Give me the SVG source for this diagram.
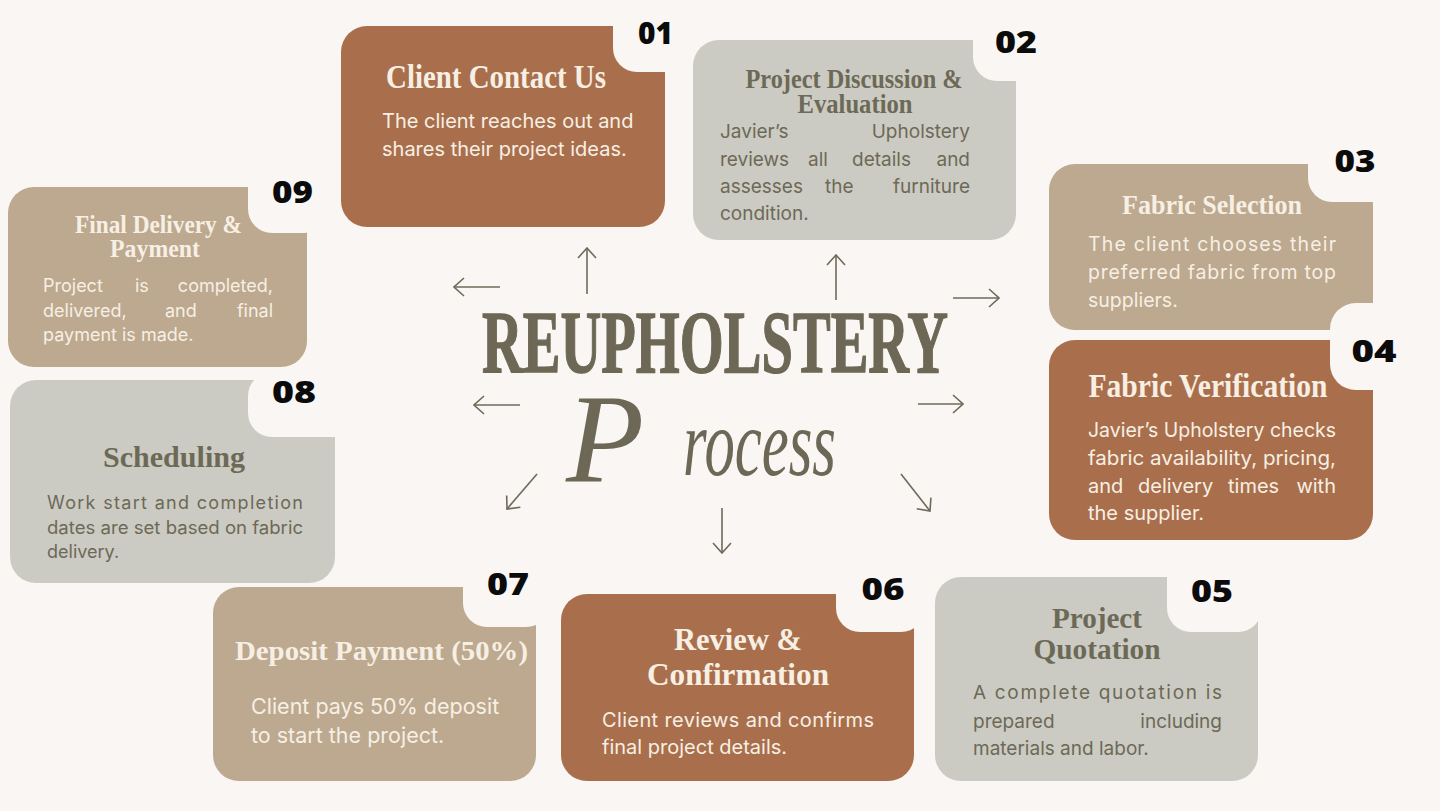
<svg xmlns="http://www.w3.org/2000/svg" width="1440" height="811" viewBox="0 0 1440 811">
<defs>
<style>
.rust{fill:#a96f4c}
.grey{fill:#cbcbc3}
.tan{fill:#bca98f}
.notch{fill:#faf6f3}
.ttl{font-family:"Liberation Serif",serif;font-weight:bold;text-anchor:middle}
.lt{fill:#f7efe4}
.dk{fill:#6d6957}
.body{font-family:Inter,"Liberation Sans",sans-serif;font-weight:400}
.end{text-anchor:end}
.num{font-family:"Open Sans","Liberation Sans",sans-serif;font-weight:800;font-size:30px;fill:#0b0b0b;text-anchor:middle}
.arr{stroke:#6e6a5a;stroke-width:1.6;fill:none;marker-end:url(#ah)}
</style>
<marker id="ah" viewBox="0 0 12 20" refX="11" refY="10" markerWidth="12" markerHeight="20" markerUnits="userSpaceOnUse" orient="auto">
<path d="M1,1 L11,10 L1,19" fill="none" stroke="#6e6a5a" stroke-width="1.6"/>
</marker>
</defs>
<rect width="1440" height="811" fill="#faf6f3"/>

<g id="title">
<text x="715" y="372" class="ttl" font-size="89" fill="#6c6855" stroke="#6c6855" stroke-width="1.4" textLength="466" lengthAdjust="spacingAndGlyphs">REUPHOLSTERY</text>
<text font-family="'Liberation Serif',serif" font-style="italic" fill="#6c6855"><tspan x="566" y="482" font-size="128">P</tspan><tspan x="683" y="475" font-size="95" textLength="153" lengthAdjust="spacingAndGlyphs">rocess</tspan></text>
</g>

<g id="node-01">
<rect x="341" y="26" width="324" height="201" rx="26" class="rust"/>
<rect x="613" y="-10" width="90" height="82" rx="24" class="notch"/>
<text x="655.5" y="44" class="num" textLength="35" lengthAdjust="spacingAndGlyphs">01</text>
<text x="496" y="88" class="ttl lt" font-size="34" textLength="220" lengthAdjust="spacingAndGlyphs">Client Contact Us</text>
<text class="body lt" font-size="20"><tspan x="382" y="128">The client reaches out and</tspan><tspan x="382" y="156">shares their project ideas.</tspan></text>
</g>

<g id="node-02">
<rect x="693" y="40" width="323" height="200" rx="26" class="grey"/>
<rect x="973" y="5" width="90" height="76" rx="24" class="notch"/>
<text x="1016" y="53" class="num" textLength="42" lengthAdjust="spacingAndGlyphs">02</text>
<text x="854" y="88" class="ttl dk" font-size="27" textLength="217" lengthAdjust="spacingAndGlyphs">Project Discussion &amp;</text>
<text x="855" y="113" class="ttl dk" font-size="27" textLength="115" lengthAdjust="spacingAndGlyphs">Evaluation</text>
<text class="body dk" font-size="19"><tspan x="720" y="138">Javier’s</tspan><tspan x="720" y="166">reviews</tspan><tspan x="808" y="166">all</tspan><tspan x="852" y="166">details</tspan><tspan x="720" y="193">assesses</tspan><tspan x="825" y="193">the</tspan><tspan x="720" y="220">condition.</tspan></text>
<text class="body dk end" font-size="19"><tspan x="970" y="138">Upholstery</tspan><tspan x="970" y="166">and</tspan><tspan x="970" y="193">furniture</tspan></text>
</g>

<g id="node-03">
<rect x="1049" y="164" width="324" height="166" rx="26" class="tan"/>
<rect x="1308" y="130" width="100" height="72" rx="24" class="notch"/>
<text x="1355" y="172" class="num" textLength="41" lengthAdjust="spacingAndGlyphs">03</text>
<text x="1212" y="214" class="ttl lt" font-size="28" textLength="180" lengthAdjust="spacingAndGlyphs">Fabric Selection</text>
<text class="body lt" font-size="19.5" x="1088" y="251" textLength="248" lengthAdjust="spacing">The client chooses their</text>
<text class="body lt" font-size="19.5" x="1088" y="279" textLength="248" lengthAdjust="spacing">preferred fabric from top</text>
<text class="body lt" font-size="19.5" x="1088" y="307">suppliers.</text>
</g>

<g id="node-04">
<rect x="1049" y="340" width="324" height="200" rx="26" class="rust"/>
<rect x="1330" y="303" width="120" height="87" rx="26" class="notch"/>
<text x="1374" y="362" class="num" textLength="45" lengthAdjust="spacingAndGlyphs">04</text>
<text x="1208" y="397" class="ttl lt" font-size="33" textLength="239" lengthAdjust="spacingAndGlyphs">Fabric Verification</text>
<text class="body lt" font-size="20" x="1088" y="437" textLength="248" lengthAdjust="spacingAndGlyphs">Javier’s Upholstery checks</text>
<text class="body lt" font-size="20" x="1088" y="465" textLength="248" lengthAdjust="spacingAndGlyphs">fabric availability, pricing,</text>
<text class="body lt" font-size="20"><tspan x="1088" y="493">and</tspan><tspan x="1138" y="493">delivery</tspan><tspan x="1228" y="493">times</tspan><tspan x="1088" y="520">the supplier.</tspan></text>
<text class="body lt end" font-size="20" x="1336" y="493">with</text>
</g>

<g id="node-05">
<rect x="935" y="577" width="323" height="204" rx="26" class="grey"/>
<rect x="1167" y="540" width="95" height="92" rx="24" class="notch"/>
<text x="1212" y="602" class="num" textLength="42" lengthAdjust="spacingAndGlyphs">05</text>
<text x="1097" y="628" class="ttl dk" font-size="30" textLength="90" lengthAdjust="spacingAndGlyphs">Project</text>
<text x="1097" y="659" class="ttl dk" font-size="30" textLength="127" lengthAdjust="spacingAndGlyphs">Quotation</text>
<text class="body dk" font-size="19" x="973" y="699" textLength="249" lengthAdjust="spacing">A complete quotation is</text>
<text class="body dk" font-size="19"><tspan x="973" y="728">prepared</tspan><tspan x="973" y="755">materials and labor.</tspan></text>
<text class="body dk end" font-size="19" x="1222" y="728">including</text>
</g>

<g id="node-06">
<rect x="561" y="594" width="353" height="187" rx="26" class="rust"/>
<rect x="836" y="560" width="89" height="72" rx="24" class="notch"/>
<text x="883" y="600" class="num" textLength="43" lengthAdjust="spacingAndGlyphs">06</text>
<text x="738" y="650" class="ttl lt" font-size="31" textLength="128" lengthAdjust="spacingAndGlyphs">Review &amp;</text>
<text x="738" y="685" class="ttl lt" font-size="31" textLength="182" lengthAdjust="spacingAndGlyphs">Confirmation</text>
<text class="body lt" font-size="20" x="602" y="727" textLength="272" lengthAdjust="spacing">Client reviews and confirms</text>
<text class="body lt" font-size="20" x="602" y="754">final project details.</text>
</g>

<g id="node-07">
<rect x="213" y="587" width="323" height="194" rx="26" class="tan"/>
<rect x="463" y="555" width="87" height="72" rx="24" class="notch"/>
<text x="508" y="595" class="num" textLength="42" lengthAdjust="spacingAndGlyphs">07</text>
<text x="381.5" y="660" class="ttl lt" font-size="28" textLength="293" lengthAdjust="spacingAndGlyphs">Deposit Payment (50%)</text>
<text class="body lt" font-size="21.5"><tspan x="251" y="714">Client pays 50% deposit</tspan><tspan x="251" y="743">to start the project.</tspan></text>
</g>

<g id="node-08">
<rect x="10" y="380" width="325" height="203" rx="26" class="grey"/>
<rect x="248" y="372" width="110" height="65" rx="24" class="notch"/>
<text x="294" y="403" class="num" textLength="44" lengthAdjust="spacingAndGlyphs">08</text>
<text x="174" y="467" class="ttl dk" font-size="30" textLength="142" lengthAdjust="spacingAndGlyphs">Scheduling</text>
<text class="body dk" font-size="18" x="47" y="509" textLength="256" lengthAdjust="spacing">Work start and completion</text>
<text class="body dk" font-size="18" x="47" y="534" textLength="256" lengthAdjust="spacingAndGlyphs">dates are set based on fabric</text>
<text class="body dk" font-size="18" x="47" y="558">delivery.</text>
</g>

<g id="node-09">
<rect x="8" y="187" width="299" height="180" rx="26" class="tan"/>
<rect x="248" y="160" width="80" height="73" rx="24" class="notch"/>
<text x="292.5" y="203" class="num" textLength="41" lengthAdjust="spacingAndGlyphs">09</text>
<text x="158.5" y="233" class="ttl lt" font-size="25" textLength="167" lengthAdjust="spacingAndGlyphs">Final Delivery &amp;</text>
<text x="155" y="257" class="ttl lt" font-size="25" textLength="90" lengthAdjust="spacingAndGlyphs">Payment</text>
<text class="body lt" font-size="18"><tspan x="43" y="292">Project</tspan><tspan x="135" y="292">is</tspan><tspan x="43" y="317">delivered,</tspan><tspan x="165" y="317">and</tspan><tspan x="43" y="341">payment is made.</tspan></text>
<text class="body lt end" font-size="18"><tspan x="273" y="292">completed,</tspan><tspan x="273" y="317">final</tspan></text>
</g>

<g id="connectors">
<line x1="500" y1="287" x2="454" y2="287" class="arr"/>
<line x1="587" y1="294" x2="587" y2="248" class="arr"/>
<line x1="836" y1="300" x2="836" y2="255" class="arr"/>
<line x1="953" y1="298" x2="999" y2="298" class="arr"/>
<line x1="520" y1="405" x2="474" y2="405" class="arr"/>
<line x1="918" y1="404" x2="963" y2="404" class="arr"/>
<line x1="537" y1="474" x2="507" y2="509" class="arr"/>
<line x1="722" y1="508" x2="722" y2="553" class="arr"/>
<line x1="901" y1="474" x2="930" y2="511" class="arr"/>
</g>
</svg>
